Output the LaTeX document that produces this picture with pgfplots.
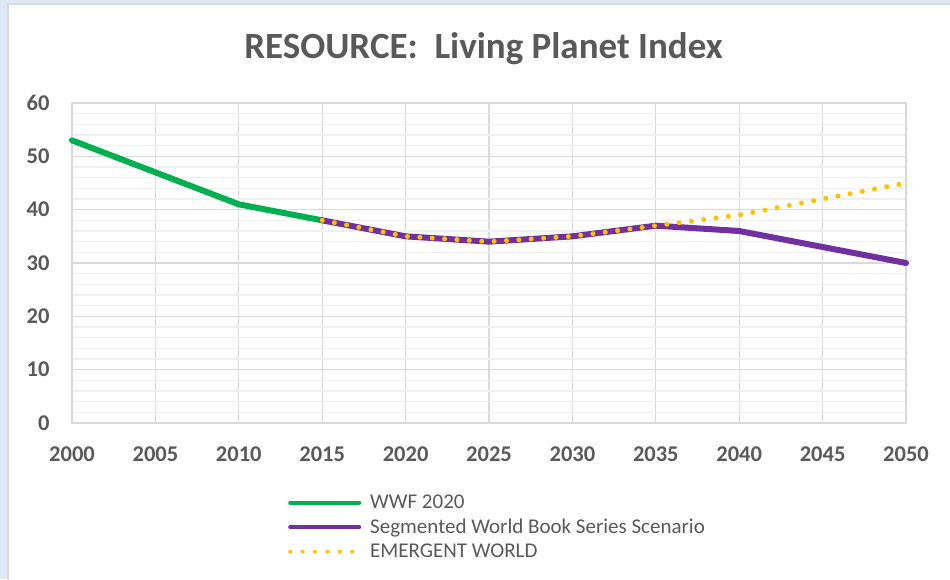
\documentclass[border=0pt]{standalone}
\usepackage{pgfplots}
\pgfplotsset{compat=1.18}
\usepackage{fontspec}
\setmainfont{Carlito}
\definecolor{txtgray}{HTML}{595959}
\definecolor{gridmaj}{HTML}{D9D9D9}
\definecolor{gridmin}{HTML}{EFEFEF}
\definecolor{wwf}{HTML}{00B050}
\definecolor{seg}{HTML}{7030A0}
\definecolor{emg}{HTML}{FFC000}
\definecolor{bgblue}{HTML}{DEE9F5}
\begin{document}
\begin{tikzpicture}
\path[use as bounding box] (0pt,0pt) rectangle (950pt,579pt);
\fill[bgblue] (0pt,0pt) rectangle (950pt,579pt);
\filldraw[fill=white, draw=gridmaj, line width=1.5pt] (8pt,-5pt) rectangle (960pt,575pt);
\node[font=\fontsize{37}{44}\selectfont\bfseries, text=txtgray] at (483.5pt,530pt) {RESOURCE:\ \ Living Planet Index};
\begin{axis}[
  at={(72pt,156pt)}, anchor=south west,
  width=834pt, height=320pt, scale only axis,
  xmin=2000, xmax=2050, ymin=0, ymax=60,
  xtick={2000,2005,...,2050}, ytick={0,10,...,60},
  minor y tick num=4,
  grid=both,
  major grid style={gridmaj, line width=1.2pt},
  minor grid style={gridmin, line width=1.2pt},
  axis line style={gridmaj, line width=1.2pt},
  major tick length=0pt, minor tick length=0pt,
  tick label style={font=\fontsize{22.5}{26}\selectfont\bfseries, text=txtgray},
  xticklabel style={yshift=-20pt},
  yticklabel style={xshift=-19pt},
  /pgf/number format/assume math mode=true,
  /pgf/number format/1000 sep={},
  clip=false,
  legend style={at={(axis description cs:0.259,-0.218)}, anchor=north west, draw=none, fill=none,
    font=\fontsize{21}{24}\selectfont, text=txtgray, row sep=5pt, inner sep=0pt},
  legend cell align=left,
  legend image code/.code={\draw[#1,line width=4pt] (2pt,0pt) -- (71pt,0pt); \path (77pt,0pt);},
]
\addplot[wwf, line width=6pt, line join=round, line cap=round] coordinates {
  (2000,53) (2005,47) (2010,41) (2015,38)};
\addlegendentry{WWF 2020}
\addplot[seg, line width=6pt, line join=round, line cap=round] coordinates {
  (2015,38) (2020,35) (2025,34) (2030,35) (2035,37) (2040,36) (2045,33) (2050,30)};
\addlegendentry{Segmented World Book Series Scenario}
\addplot[emg, line width=5pt, line cap=round, dash pattern=on 0pt off 12.4pt] coordinates {
  (2015,38) (2020,35) (2025,34) (2030,35) (2035,37) (2040,39) (2045,42) (2050,45)};
\addlegendentry{EMERGENT WORLD}
\end{axis}
\end{tikzpicture}
\end{document}
